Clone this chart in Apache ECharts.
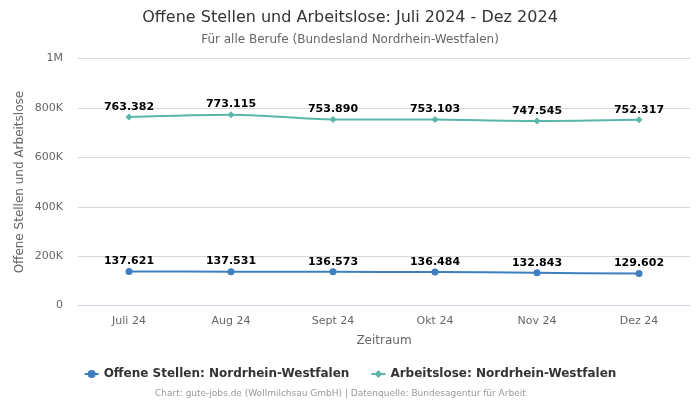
<!DOCTYPE html>
<html><head><meta charset="utf-8">
<script src="https://cdn.jsdelivr.net/npm/echarts@6/dist/echarts.min.js"></script>
<style>html,body{margin:0;padding:0;background:#fff}#c{width:700px;height:400px}</style>
</head><body><div id="c"></div>
<script>
const categories = ["Juli 24","Aug 24","Sept 24","Okt 24","Nov 24","Dez 24"];
const offeneStellen = [137621,137531,136573,136484,132843,129602];
const arbeitslose = [763382,773115,753890,753103,747545,752317];
const seriesNames = ["Offene Stellen: Nordrhein-Westfalen","Arbeitslose: Nordrhein-Westfalen"];
const yTicks = {0:"0",200000:"200K",400000:"400K",600000:"600K",800000:"800K",1000000:"1M"};

const fmt = v => v.toLocaleString('de-DE');
const FONT = "DejaVu Sans";
const chart = echarts.init(document.getElementById('c'), null, {renderer:'canvas'});
const labelCfg = {show:true, position:'top', distance:1, formatter:p=>fmt(p.value), fontFamily:FONT, fontWeight:'bold', fontSize:11, color:'#000'};
chart.setOption({
  animation:false,
  textStyle:{fontFamily:FONT},
  title:[
    {text:"Offene Stellen und Arbeitslose: Juli 2024 - Dez 2024", left:'center', top:5, textStyle:{fontFamily:FONT, fontSize:16, fontWeight:'normal', color:'#333'}},
    {text:"Für alle Berufe (Bundesland Nordrhein-Westfalen)", left:'center', top:29, textStyle:{fontFamily:FONT, fontSize:12, fontWeight:'normal', color:'#666'}},
    {text:"Chart: gute-jobs.de (Wollmilchsau GmbH) | Datenquelle: Bundesagentur für Arbeit", left:150, top:384, textStyle:{fontFamily:FONT, fontSize:9, fontWeight:'normal', color:'#999'}}
  ],
  legend:{top:363, left:'center', itemGap:21, itemWidth:14, itemHeight:10, textStyle:{fontFamily:FONT, fontSize:12, fontWeight:'bold', color:'#333'}, data:seriesNames},
  grid:{left:78, right:10, top:58.6, bottom:94.4},
  xAxis:{type:'category', data:categories, boundaryGap:true, name:'Zeitraum', nameLocation:'middle', nameGap:29, nameTextStyle:{fontFamily:FONT, fontSize:12, color:'#666'},
    axisLine:{lineStyle:{color:'#ccd6eb'}}, axisTick:{show:false}, axisLabel:{fontFamily:FONT, fontSize:11, color:'#666', margin:10}},
  yAxis:{type:'value', min:0, max:1000000, interval:200000, name:'Offene Stellen und Arbeitslose', nameLocation:'middle', nameGap:52, nameMoveOverlap:false, nameTextStyle:{fontFamily:FONT, fontSize:12, color:'#666'},
    axisLabel:{fontFamily:FONT, fontSize:11, color:'#666', margin:15, formatter:v=>yTicks[v]}, splitLine:{lineStyle:{color:'#d8d8d8'}}, axisLine:{show:false}, axisTick:{show:false}},
  series:[
    {name:seriesNames[0], type:'line', data:offeneStellen, smooth:0.3, symbol:'circle', symbolSize:7, itemStyle:{color:'#3d7fbf'}, lineStyle:{width:2, color:'#3d7fbf'}, label:labelCfg},
    {name:seriesNames[1], type:'line', data:arbeitslose, smooth:0.3, symbol:'diamond', symbolSize:7, itemStyle:{color:'#5bb6aa'}, lineStyle:{width:2, color:'#5bb6aa'}, label:labelCfg}
  ]
});
</script></body></html>
